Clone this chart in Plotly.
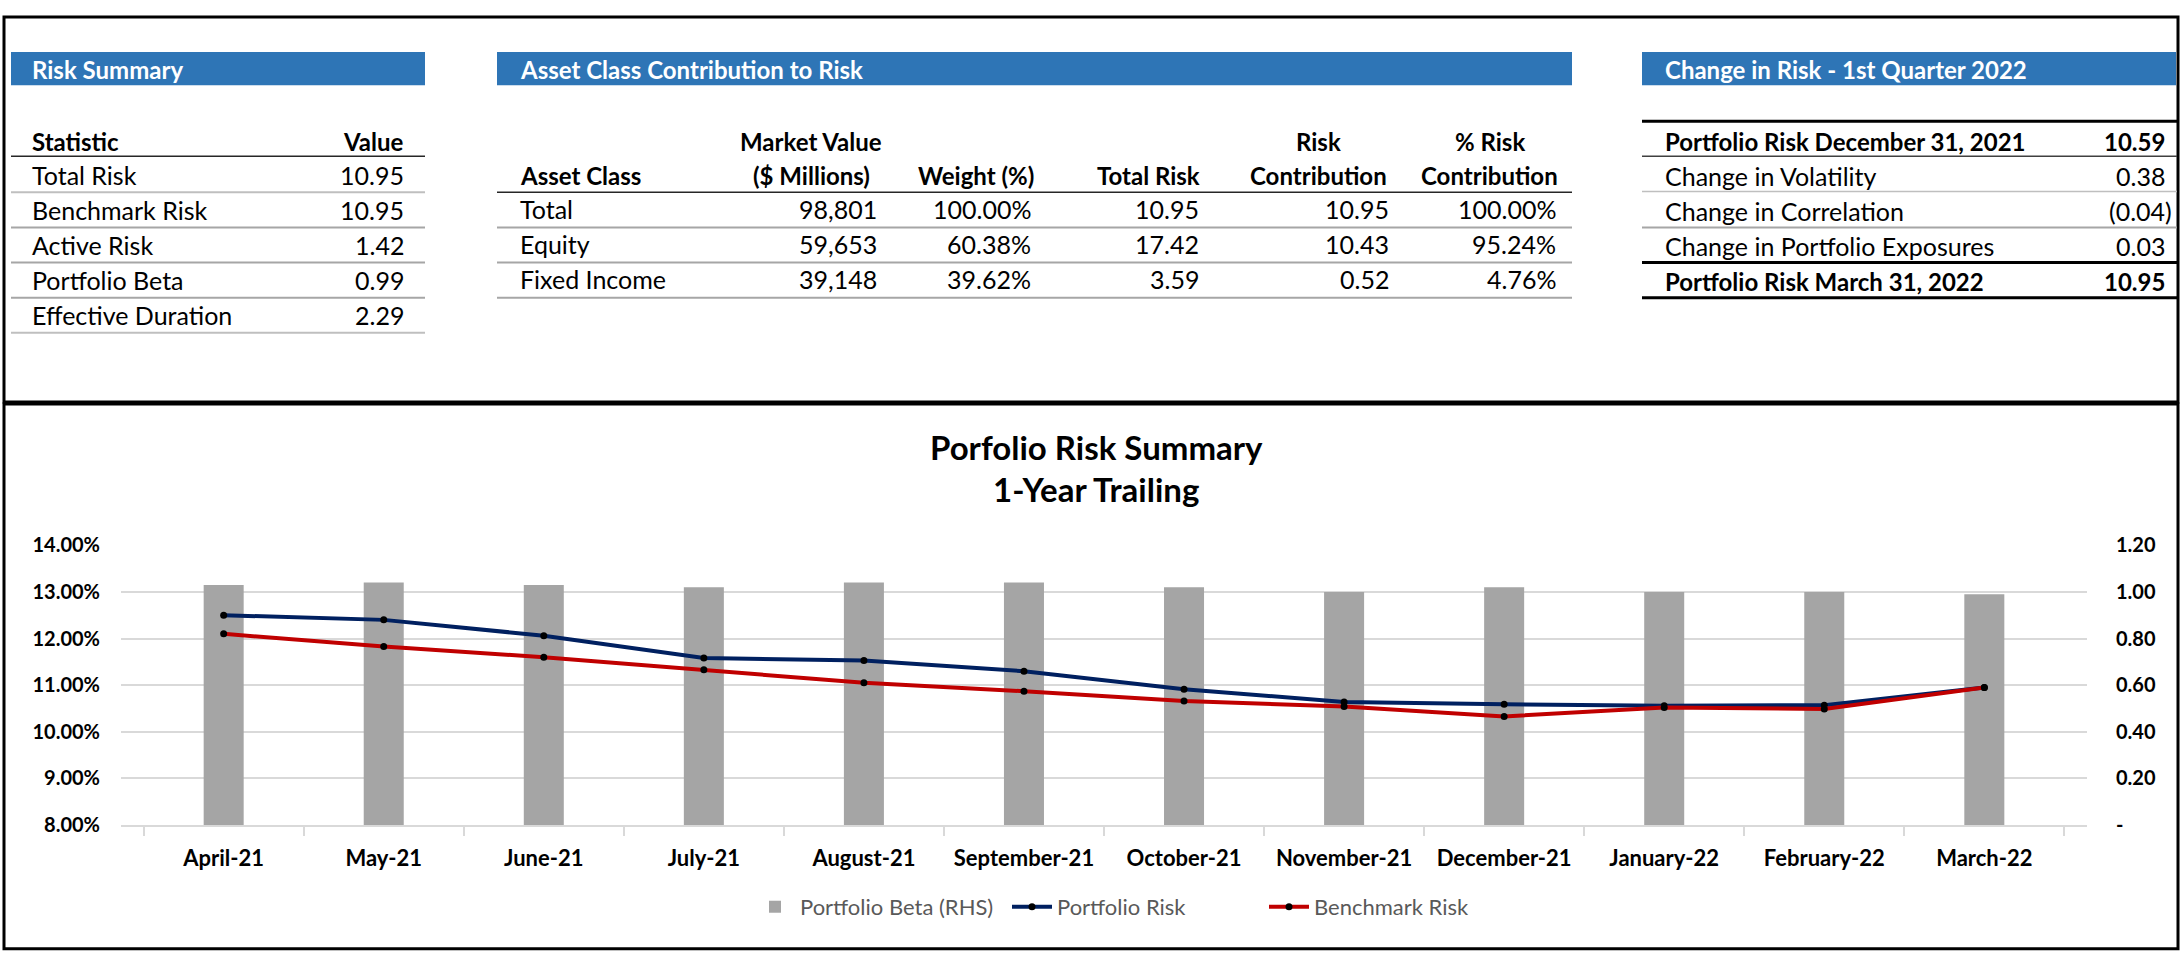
import plotly.graph_objects as go

# ---------------- data ----------------
months = ["April-21", "May-21", "June-21", "July-21", "August-21", "September-21",
          "October-21", "November-21", "December-21", "January-22", "February-22", "March-22"]
portfolio_beta = [1.03, 1.04, 1.03, 1.02, 1.04, 1.04, 1.02, 1.00, 1.02, 1.00, 1.00, 0.99]
portfolio_risk = [12.50, 12.40, 12.06, 11.58, 11.53, 11.30, 10.91, 10.64, 10.59, 10.56, 10.57, 10.95]
benchmark_risk = [12.10, 11.83, 11.60, 11.33, 11.05, 10.87, 10.66, 10.54, 10.33, 10.52, 10.49, 10.95]

pct_ticks = [8, 9, 10, 11, 12, 13, 14]
beta_ticks = [0.0, 0.2, 0.4, 0.6, 0.8, 1.0, 1.2]

risk_stats = ["Total Risk", "Benchmark Risk", "Active Risk", "Portfolio Beta", "Effective Duration"]
risk_values = [10.95, 10.95, 1.42, 0.99, 2.29]

asset_classes = ["Total", "Equity", "Fixed Income"]
market_value = [98801, 59653, 39148]
weight_pct = [100.00, 60.38, 39.62]
total_risk = [10.95, 17.42, 3.59]
risk_contrib = [10.95, 10.43, 0.52]
pct_risk_contrib = [100.00, 95.24, 4.76]

change_labels = ["Portfolio Risk December 31, 2021", "Change in Volatility", "Change in Correlation",
                 "Change in Portfolio Exposures", "Portfolio Risk March 31, 2022"]
change_values = [10.59, 0.38, -0.04, 0.03, 10.95]
change_bold = [True, False, False, False, True]

# ---------------- layout helpers ----------------
W, H = 2183, 954
FONT = "Lato"
HDR = "#2E75B6"
GRID = "#D9D9D9"
TXT = 25   # body text size
BTXT = 24  # bold text size


def X(px):
    return px / W


def Y(py):
    return 1 - py / H


fig = go.Figure()

fig.add_trace(go.Bar(x=months, y=portfolio_beta, name="Portfolio Beta (RHS)",
                     marker=dict(color="#A5A5A5", line=dict(width=0)), yaxis="y",
                     hoverinfo="skip"))
fig.add_trace(go.Scatter(x=months, y=portfolio_risk, name="Portfolio Risk", mode="lines+markers",
                         line=dict(color="#002060", width=4), marker=dict(color="black", size=7),
                         yaxis="y2", hoverinfo="skip"))
fig.add_trace(go.Scatter(x=months, y=benchmark_risk, name="Benchmark Risk", mode="lines+markers",
                         line=dict(color="#C00000", width=4), marker=dict(color="black", size=7),
                         yaxis="y2", hoverinfo="skip"))

shapes = []
ann = []


def txt(x, y, s, anchor="left", size=TXT, bold=False, color="black"):
    ann.append(dict(x=X(x), y=Y(y), xref="paper", yref="paper",
                    text=f"<b>{s}</b>" if bold else s, showarrow=False,
                    xanchor=anchor, yanchor="middle", borderpad=0,
                    font=dict(family=FONT, size=size, color=color)))


def hline(x0, x1, y, color="#BFBFBF", width=2):
    shapes.append(dict(type="line", xref="paper", yref="paper", x0=X(x0), x1=X(x1),
                       y0=Y(y), y1=Y(y), line=dict(color=color, width=width)))


def rect(x0, y0, x1, y1, fill=None, color="black", width=3):
    shapes.append(dict(type="rect", xref="paper", yref="paper", x0=X(x0), x1=X(x1),
                       y0=Y(y1), y1=Y(y0), fillcolor=fill,
                       line=dict(color=color, width=width if fill is None else 0),
                       layer="below" if fill else "above"))


# outer frames
rect(4, 4, 2178, 399)
rect(4, 401, 2178, 960)

# header bars
rect(11, 40, 425, 74, fill=HDR)
rect(497, 40, 1572, 74, fill=HDR)
rect(1642, 40, 2176, 74, fill=HDR)
txt(31, 58, "Risk Summary", size=BTXT, bold=True, color="white")
txt(519, 58, "Asset Class Contribution to Risk", size=BTXT, bold=True, color="white")
txt(1664, 58, "Change in Risk - 1st Quarter 2022", size=BTXT, bold=True, color="white")

row_y = [166, 202, 238, 274, 310]
line_y = [184, 220, 256, 292, 328]

# ---- Risk summary table ----
txt(31, 132, "Statistic", size=BTXT, bold=True)
txt(405, 132, "Value", anchor="right", size=BTXT, bold=True)
hline(11, 425, 147, color="#262626", width=1.5)
for i, (s, v) in enumerate(zip(risk_stats, risk_values)):
    txt(31, row_y[i], s)
    txt(405, row_y[i], f"{v:.2f}", anchor="right")
    hline(11, 425, line_y[i], color="#BFBFBF" if i in (0, 4) else "#A6A6A6", width=2)

# ---- Asset class table ----
txt(519, 167, "Asset Class", size=BTXT, bold=True)
txt(811, 132, "Market Value", anchor="center", size=BTXT, bold=True)
txt(811, 167, "($ Millions)", anchor="center", size=BTXT, bold=True)
txt(976, 167, "Weight (%)", anchor="center", size=BTXT, bold=True)
txt(1148, 167, "Total Risk", anchor="center", size=BTXT, bold=True)
txt(1318, 132, "Risk", anchor="center", size=BTXT, bold=True)
txt(1318, 167, "Contribution", anchor="center", size=BTXT, bold=True)
txt(1490, 132, "% Risk", anchor="center", size=BTXT, bold=True)
txt(1490, 167, "Contribution", anchor="center", size=BTXT, bold=True)
hline(497, 1572, 184, color="#262626", width=1.5)
for i in range(len(asset_classes)):
    y = row_y[i + 1] - 1
    txt(519, y, asset_classes[i])
    txt(878, y, f"{market_value[i]:,}", anchor="right")
    txt(1032, y, f"{weight_pct[i]:.2f}%", anchor="right")
    txt(1200, y, f"{total_risk[i]:.2f}", anchor="right")
    txt(1390, y, f"{risk_contrib[i]:.2f}", anchor="right")
    txt(1557, y, f"{pct_risk_contrib[i]:.2f}%", anchor="right")
    hline(497, 1572, line_y[i + 1], color="#A6A6A6", width=2)

# ---- Change in risk table ----
chg_rows = [132, 167, 203, 239, 275]
chg_lines = [(111, "#000000", 3), (147, "#404040", 1.5), (183, "#BFBFBF", 1.5),
             (220, "#A6A6A6", 2), (256, "#000000", 3), (292, "#000000", 3)]
for (yy, c, w) in chg_lines:
    hline(1642, 2177, yy, color=c, width=w)
for i, (lab, v) in enumerate(zip(change_labels, change_values)):
    b = change_bold[i]
    sz = BTXT if b else TXT
    txt(1664, chg_rows[i], lab, bold=b, size=sz)
    if v < 0:
        txt(2173, chg_rows[i], f"({abs(v):.2f})", anchor="right", bold=b, size=sz)
    else:
        txt(2166, chg_rows[i], f"{v:.2f}", anchor="right", bold=b, size=sz)

# ---- chart title ----
txt(1096, 445, "Porfolio Risk Summary", anchor="center", size=33, bold=True)
txt(1096, 488, "1-Year Trailing", anchor="center", size=33, bold=True)

fig.update_layout(
    width=W, height=H,
    margin=dict(l=0, r=0, t=0, b=0),
    paper_bgcolor="white", plot_bgcolor="white",
    font=dict(family=FONT, color="black"),
    bargap=0.75,
    showlegend=True,
    legend=dict(orientation="h", x=X(750), y=Y(917), xanchor="left", yanchor="middle",
                font=dict(family=FONT, size=22, color="#595959"), traceorder="normal",
                itemwidth=40, entrywidth=202, entrywidthmode="pixels"),
    xaxis=dict(domain=[X(121), X(2087)], type="category", tickson="boundaries",
               ticks="outside", ticklen=9, tickcolor=GRID, tickwidth=1.5,
               showline=True, linecolor=GRID, linewidth=1.5, showgrid=False,
               tickfont=dict(family=FONT, size=22, weight="bold", color="black"),
               ticklabelstandoff=13, fixedrange=True),
    yaxis=dict(domain=[Y(833), Y(546)], side="right", range=[0, 1.2],
               tickvals=beta_ticks,
               ticktext=["-" if v == 0 else f"{v:.2f}" for v in beta_ticks],
               showgrid=True, gridcolor=GRID, gridwidth=1.5, zeroline=False,
               tickfont=dict(family=FONT, size=20, weight="bold", color="black"),
               ticklabelstandoff=28, fixedrange=True),
    yaxis2=dict(overlaying="y", side="left", range=[8, 14], tickvals=pct_ticks,
                ticktext=[f"{v:.2f}%" for v in pct_ticks],
                showgrid=False, zeroline=False,
                tickfont=dict(family=FONT, size=20, weight="bold", color="black"),
                ticklabelstandoff=20, fixedrange=True),
    shapes=shapes,
    annotations=ann,
)

fig.write_html("out.html", config={"displayModeBar": False},
               post_script="document.body.style.margin='0';document.body.style.overflow='hidden';")
